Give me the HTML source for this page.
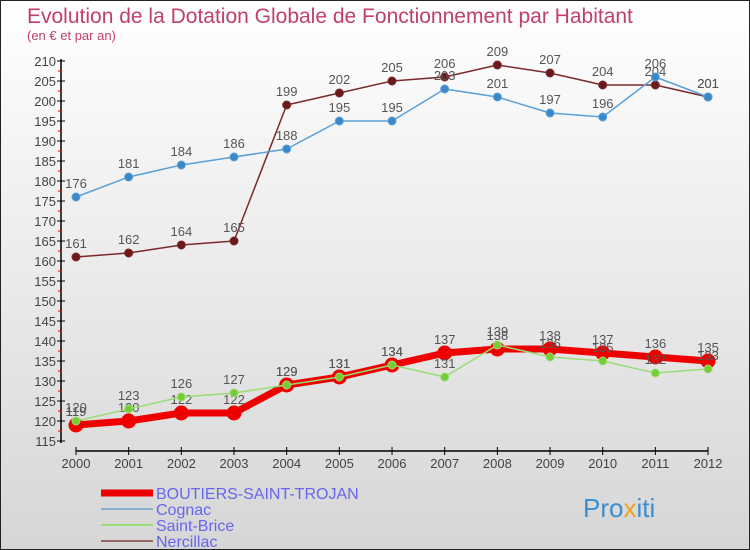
<!DOCTYPE html>
<html><head><meta charset="utf-8"><style>
body{margin:0}
#c{width:750px;height:550px;position:relative;box-sizing:border-box;border:1px solid #222;background:linear-gradient(#fff,#d6d6d6);font-family:"Liberation Sans",sans-serif;overflow:hidden}
</style></head><body>
<div id="c">
<svg id="s" width="748" height="548" xmlns="http://www.w3.org/2000/svg" style="position:absolute;left:0;top:0">
<text x="26" y="22" font-size="21" fill="#c0406a">Evolution de la Dotation Globale de Fonctionnement par Habitant</text>
<text x="26" y="39" font-size="13" fill="#c0406a">(en € et par an)</text>
<g id="axes"></g><g id="series"></g><g id="legend"></g>
<text x="582" y="516" font-size="26" fill="#3a8fd0">Pro<tspan fill="#f0a020">x</tspan>iti</text>
</svg></div>
<script>
const years=[2000,2001,2002,2003,2004,2005,2006,2007,2008,2009,2010,2011,2012];
const yTicks=[115,120,125,130,135,140,145,150,155,160,165,170,175,180,185,190,195,200,205,210];
const boutiers=[119,120,122,122,129,131,134,137,138,138,137,136,135];
const cognac=[176,181,184,186,188,195,195,203,201,197,196,206,201];
const saintBrice=[120,123,126,127,129,131,134,131,139,136,135,132,133];
const nercillac=[161,162,164,165,199,202,205,206,209,207,204,204,201];
const NS="http://www.w3.org/2000/svg";
const X=i=>75+i*52.67, Y=v=>60+(210-v)*4;
function el(t,a,p){const e=document.createElementNS(NS,t);for(const k in a)e.setAttribute(k,a[k]);p.appendChild(e);return e;}
const ax=document.getElementById('axes');
let yl=el('line',{x1:60,y1:58,x2:60,y2:442,stroke:'#000','stroke-width':1.5},ax);


yTicks.forEach(v=>{
 el('line',{x1:56,x2:64,y1:Y(v),y2:Y(v),stroke:'#000'},ax);
 if(v<210) el('line',{x1:57,x2:61,y1:Y(v+2.5),y2:Y(v+2.5),stroke:'#e00'},ax);
 const t=el('text',{x:55,y:Y(v)+5,'font-size':13,'text-anchor':'end',fill:'#444'},ax);t.textContent=v;
 
 
});
let xl=el('line',{x1:75,y1:450,x2:707,y2:450,stroke:'#000','stroke-width':1.5},ax);


years.forEach((y,i)=>{
 el('line',{x1:X(i),x2:X(i),y1:446,y2:454,stroke:'#000'},ax);
 const t=el('text',{x:X(i),y:467,'font-size':13,'text-anchor':'middle',fill:'#444'},ax);t.textContent=y;
 
 
});
const sg=document.getElementById('series');
function series(d,col,w,r,dot,name){
 const g=el('g',{},sg);
 
 
 el('polyline',{points:d.map((v,i)=>X(i)+','+Y(v)).join(' '),fill:'none',stroke:col,'stroke-width':w,'stroke-linejoin':'round'},g);
 d.forEach((v,i)=>{
  const c=el('circle',{cx:X(i),cy:Y(v),r:r,fill:dot,stroke:col,'stroke-width':1},g);
  
  
  const t=el('text',{x:X(i),y:Y(v)-9,'font-size':13,'text-anchor':'middle',fill:'#555'},g);t.textContent=v;
  
  
 });
}
series(nercillac,'#7a2a2a',1.5,4,'#6a1a1a','nercillac-series');
series(cognac,'#5aa0d8',1.5,4,'#3a88c8','cognac-series');
series(boutiers,'#ee0000',7,7,'#ee0000','boutiers-series');
series(saintBrice,'#99dd77',1.5,4,'#77cc33','saint-brice-series');
const lg=document.getElementById('legend');
const items=[['BOUTIERS-SAINT-TROJAN','#ee0000',7],['Cognac','#88b0d0',2],['Saint-Brice','#99dd77',2],['Nercillac','#996666',2]];
items.forEach((it,i)=>{
 const y=492+i*16;
 el('line',{x1:100,x2:152,y1:y,y2:y,stroke:it[1],'stroke-width':it[2]},lg);
 const t=el('text',{x:155,y:y+6,'font-size':16,fill:'#6666ee'},lg);t.textContent=it[0];
 
 
});
</script></body></html>
